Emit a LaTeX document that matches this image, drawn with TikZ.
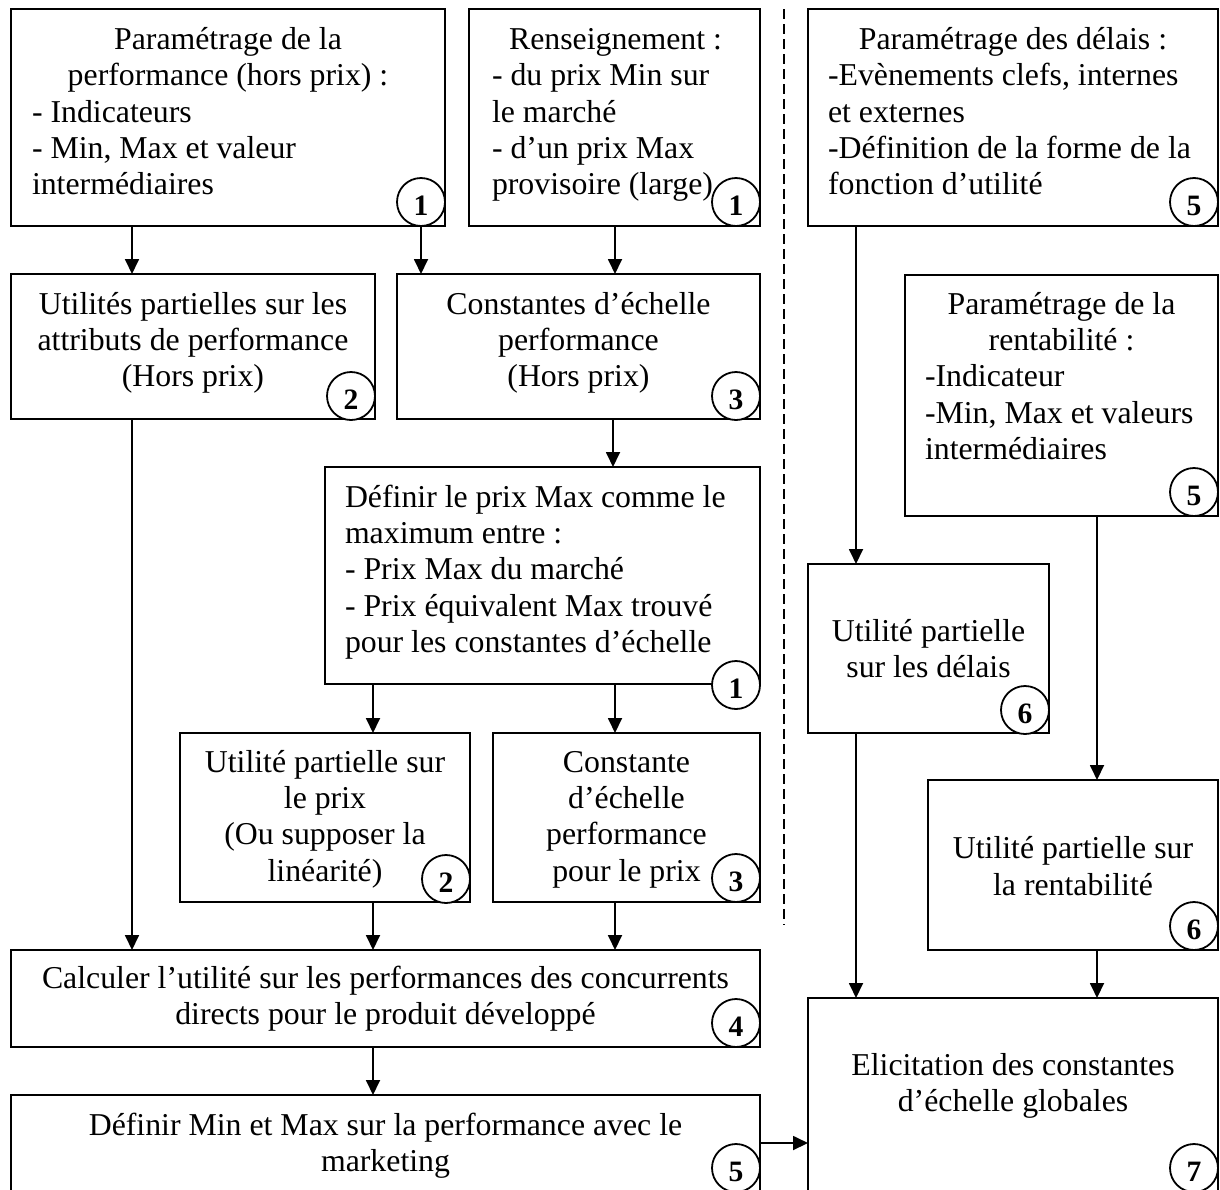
\documentclass[tikz,border=0pt]{standalone}
\usepackage{fontspec}
\setmainfont{Liberation Serif}
\usetikzlibrary{arrows.meta}
\begin{document}
\begin{tikzpicture}[x=1pt,y=-1pt,
  box/.style={draw, line width=1.8pt, inner sep=0pt, outer sep=0pt, anchor=north west, fill=white},
  txt/.style={font=\fontsize{31.8}{36.4}\selectfont, inner sep=0pt, outer sep=0pt},
  ctxt/.style={txt, align=center, anchor=base},
  ltxt/.style={txt, align=left, anchor=base west},
  num/.style={circle, draw, fill=white, line width=1.8pt, minimum size=48pt, inner sep=0pt},
  numtxt/.style={font=\bfseries\fontsize{29.6}{30}\selectfont, inner sep=0pt},
  arr/.style={line width=1.8pt, -{Triangle[width=14pt,length=15pt]}},
  sepline/.style={line width=1.2pt, dash pattern=on 10pt off 5pt}]
\useasboundingbox (0,0) rectangle (1220,1189);
\clip (0,0) rectangle (1220,1189);
\fill[white] (0,0) rectangle (1220,1189);

% boxes
\node[box, minimum width=434pt, minimum height=217pt] (A) at (11,9) {};
\node[box, minimum width=291pt, minimum height=217pt] (B) at (469,9) {};
\node[box, minimum width=410pt, minimum height=217pt] (C) at (808,9) {};
\node[box, minimum width=364pt, minimum height=145pt] (D) at (11,274) {};
\node[box, minimum width=363pt, minimum height=145pt] (E) at (397,274) {};
\node[box, minimum width=313pt, minimum height=241pt] (F) at (905,275) {};
\node[box, minimum width=435pt, minimum height=217pt] (G) at (325,467) {};
\node[box, minimum width=241pt, minimum height=169pt] (H) at (808,564) {};
\node[box, minimum width=290pt, minimum height=169pt] (I) at (180,733) {};
\node[box, minimum width=267pt, minimum height=169pt] (J) at (493,733) {};
\node[box, minimum width=290pt, minimum height=170pt] (K) at (928,780) {};
\node[box, minimum width=749pt, minimum height=97pt] (L) at (11,950) {};
\node[box, minimum width=749pt, minimum height=125pt] (M) at (11,1095) {};
\node[box, minimum width=410pt, minimum height=212pt] (N) at (808,998) {};

% texts (anchor = baseline of the last line)
\node[ctxt] (tA1) at (228,85.7) {Paramétrage de la\\performance (hors prix) :};
\node[ltxt] (tA2) at (32,194.9) {- Indicateurs\\- Min, Max et valeur\\intermédiaires};
\node[ctxt] (tB1) at (615.5,49.3) {Renseignement :};
\node[ltxt] (tB2) at (492,194.9) {- du prix Min sur\\le marché\\- d’un prix Max\\provisoire (large)};
\node[ctxt] (tC1) at (1013,49.3) {Paramétrage des délais :};
\node[ltxt] (tC2) at (828,194.9) {-Evènements clefs, internes\\et externes\\-Définition de la forme de la\\fonction d’utilité};
\node[ctxt] (tD) at (193,386.8) {Utilités partielles sur les\\attributs de performance\\(Hors prix)};
\node[ctxt] (tE) at (578.5,386.8) {Constantes d’échelle\\performance\\(Hors prix)};
\node[ctxt] (tF1) at (1061.5,350.4) {Paramétrage de la\\rentabilité :};
\node[ltxt] (tF2) at (925,459.6) {-Indicateur\\-Min, Max et valeurs\\intermédiaires};
\node[ltxt] (tG) at (345,652.6) {Définir le prix Max comme le\\maximum entre :\\- Prix Max du marché\\- Prix équivalent Max trouvé\\pour les constantes d’échelle};
\node[ctxt] (tH) at (928.5,677.4) {Utilité partielle\\sur les délais};
\node[ctxt] (tI) at (325,881.2) {Utilité partielle sur\\le prix\\(Ou supposer la\\linéarité)};
\node[ctxt] (tJ) at (626.5,881.2) {Constante\\d’échelle\\performance\\pour le prix};
\node[ctxt] (tK) at (1073,895) {Utilité partielle sur\\la rentabilité};
\node[ctxt] (tL) at (385.5,1024.4) {Calculer l’utilité sur les performances des concurrents\\directs pour le produit développé};
\node[ctxt] (tM) at (385.5,1171.4) {Définir Min et Max sur la performance avec le\\marketing};
\node[ctxt] (tN) at (1013,1111.4) {Elicitation des constantes\\d’échelle globales};

% separator
\coordinate (s1) at (784,9);
\coordinate (s2) at (784,925);
\draw[sepline] (s1) -- (s2);

% connectors
\draw[arr] (A.south -| 132,0) -- (D.north -| 132,0);
\draw[arr] (A.south -| 421,0) -- (E.north -| 421,0);
\draw[arr] (B.south -| 615,0) -- (E.north -| 615,0);
\draw[arr] (E.south -| 613,0) -- (G.north -| 613,0);
\draw[arr] (G.south -| 373,0) -- (I.north -| 373,0);
\draw[arr] (G.south -| 615,0) -- (J.north -| 615,0);
\draw[arr] (D.south -| 132,0) -- (L.north -| 132,0);
\draw[arr] (I.south -| 373,0) -- (L.north -| 373,0);
\draw[arr] (J.south -| 615,0) -- (L.north -| 615,0);
\draw[arr] (L.south -| 373,0) -- (M.north -| 373,0);
\draw[arr] (C.south -| 856,0) -- (H.north -| 856,0);
\draw[arr] (F.south -| 1097,0) -- (K.north -| 1097,0);
\draw[arr] (H.south -| 856,0) -- (N.north -| 856,0);
\draw[arr] (K.south -| 1097,0) -- (N.north -| 1097,0);
\draw[arr] (M.east |- 0,1143) -- (N.west |- 0,1143);

% step numbers
\node[num] (cA) at (421,202) {};  \node[numtxt] (nA) at ([yshift=-4pt]cA.center) {1};
\node[num] (cB) at (736,202) {};  \node[numtxt] (nB) at ([yshift=-4pt]cB.center) {1};
\node[num] (cC) at (1194,202) {}; \node[numtxt] (nC) at ([yshift=-4pt]cC.center) {5};
\node[num] (cD) at (351,396) {};  \node[numtxt] (nD) at ([yshift=-4pt]cD.center) {2};
\node[num] (cE) at (736,396) {};  \node[numtxt] (nE) at ([yshift=-4pt]cE.center) {3};
\node[num] (cF) at (1194,492) {}; \node[numtxt] (nF) at ([yshift=-4pt]cF.center) {5};
\node[num] (cG) at (736,685) {};  \node[numtxt] (nG) at ([yshift=-4pt]cG.center) {1};
\node[num] (cH) at (1025,710) {}; \node[numtxt] (nH) at ([yshift=-4pt]cH.center) {6};
\node[num] (cI) at (446,879) {};  \node[numtxt] (nI) at ([yshift=-4pt]cI.center) {2};
\node[num] (cJ) at (736,878) {};  \node[numtxt] (nJ) at ([yshift=-4pt]cJ.center) {3};
\node[num] (cK) at (1194,926) {}; \node[numtxt] (nK) at ([yshift=-4pt]cK.center) {6};
\node[num] (cL) at (736,1023) {}; \node[numtxt] (nL) at ([yshift=-4pt]cL.center) {4};
\node[num] (cM) at (736,1168) {}; \node[numtxt] (nM) at ([yshift=-4pt]cM.center) {5};
\node[num] (cN) at (1194,1168) {}; \node[numtxt] (nN) at ([yshift=-4pt]cN.center) {7};
\end{tikzpicture}
\end{document}
